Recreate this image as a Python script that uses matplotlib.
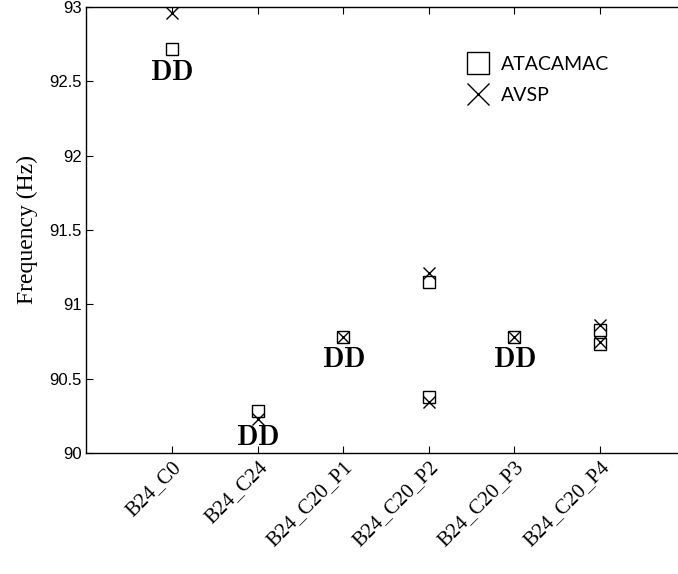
import matplotlib
matplotlib.use("Agg")
import matplotlib.pyplot as plt

plt.rcParams["mathtext.fontset"] = "cm"

categories = ["B24_C0", "B24_C24", "B24_C20_P1", "B24_C20_P2", "B24_C20_P3", "B24_C20_P4"]
# (category index, value)
atacamac_x = [1, 2, 3, 4, 4, 5, 6, 6]
atacamac_y = [92.72, 90.28, 90.78, 91.15, 90.38, 90.78, 90.83, 90.73]
avsp_x = [1, 2, 3, 4, 4, 5, 6, 6]
avsp_y = [92.96, 90.23, 90.78, 91.21, 90.34, 90.78, 90.86, 90.75]
dd_x = [1, 2, 3, 5]
dd_y = [92.56, 90.11, 90.63, 90.63]
yticks = [90, 90.5, 91, 91.5, 92, 92.5, 93]
ytick_labels = ["90", "90.5", "91", "91.5", "92", "92.5", "93"]

fig = plt.figure(figsize=(6.78, 5.74), dpi=100)
ax = fig.add_axes([86.4/678, (574-453)/574, 599/678, 446/574])

ax.plot(atacamac_x, atacamac_y, linestyle="none", marker="s", markersize=8.5,
        markerfacecolor="none", markeredgecolor="black", markeredgewidth=1.0, label="ATACAMAC")
ax.plot(avsp_x, avsp_y, linestyle="none", marker="x", markersize=9,
        color="black", markeredgewidth=1.0, label="AVSP")

for x, y in zip(dd_x, dd_y):
    ax.text(x, y, r"$\mathbf{DD}$", ha="center", va="center", fontsize=20)

ax.set_xlim(0, 7)
ax.set_ylim(90, 93)
ax.set_xticks(range(1, 7))
ax.set_xticklabels(categories, rotation=45, ha="right", rotation_mode="anchor",
                   fontsize=15, family="Liberation Serif")
ax.set_yticks(yticks)
ax.set_yticklabels(ytick_labels, fontsize=12, family="Liberation Sans")
ax.tick_params(direction="in", top=True, right=True, length=5, width=0.8)
ax.set_ylabel("Frequency (Hz)", fontsize=17, family="Liberation Serif", labelpad=8)
for s in ax.spines.values():
    s.set_linewidth(1.0)

leg = ax.legend(loc="upper left", bbox_to_anchor=(0.605, 0.93), frameon=False,
                prop={"family": "Lato", "size": 14}, markerscale=1.8,
                handlelength=1.2, handletextpad=0.6, labelspacing=0.75)

fig.savefig("out.png", dpi=100)
